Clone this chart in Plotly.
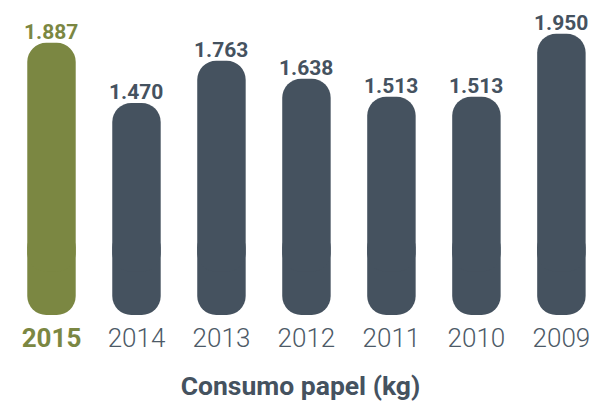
import plotly.graph_objects as go

years = ["2015", "2014", "2013", "2012", "2011", "2010", "2009"]
values = [1887, 1470, 1763, 1638, 1513, 1513, 1950]

GREEN = "#7b8742"
SLATE = "#45525f"
TICK = "#4d5a67"

low_join = 300
high_join = 600
colors = [GREEN] + [SLATE] * (len(years) - 1)
labels = [f"{v:,}".replace(",", ".") for v in values]
x = list(range(len(years)))

fig = go.Figure()
# lower rounded half (from join down to 0)
fig.add_trace(go.Bar(
    x=x, y=[-high_join] * len(x), base=[high_join] * len(x),
    marker=dict(color=colors, line=dict(width=0), cornerradius=19),
    width=0.57, hoverinfo="skip",
))
# upper rounded half (from join up to the value)
fig.add_trace(go.Bar(
    x=x, y=[v - low_join for v in values], base=[low_join] * len(x),
    marker=dict(color=colors, line=dict(width=0), cornerradius=19),
    width=0.57, hoverinfo="skip",
))

for xi, v, lab, c in zip(x, values, labels, colors):
    fig.add_annotation(
        x=xi, y=v, text=f"<b>{lab}</b>", showarrow=False,
        yanchor="bottom", yshift=-3,
        font=dict(family="Roboto", size=21, color=c),
    )

ticktext = [f"<b><span style='color:{GREEN}'>{years[0]}</span></b>"] + years[1:]

fig.update_layout(
    width=592, height=403,
    margin=dict(l=9, r=0, t=0, b=88, autoexpand=False),
    barmode="overlay",
    showlegend=False,
    plot_bgcolor="white", paper_bgcolor="white",
    font=dict(family="Roboto", color=SLATE),
    xaxis=dict(
        range=[-0.5, 6.36], tickvals=x, ticktext=ticktext,
        tickfont=dict(family="Roboto", size=26, weight=300, color=TICK),
        showgrid=False, zeroline=False, showline=False, ticks="",
        ticklabelstandoff=5, automargin=False,
        title=dict(text="Consumo papel (kg)", standoff=24,
                   font=dict(family="Roboto", size=26.5, weight="bold", color=SLATE)),
    ),
    yaxis=dict(range=[0, 2184], visible=False),
)

fig.write_html("out.html", config={"displayModeBar": False},
               post_script="document.body.style.margin='0';")
